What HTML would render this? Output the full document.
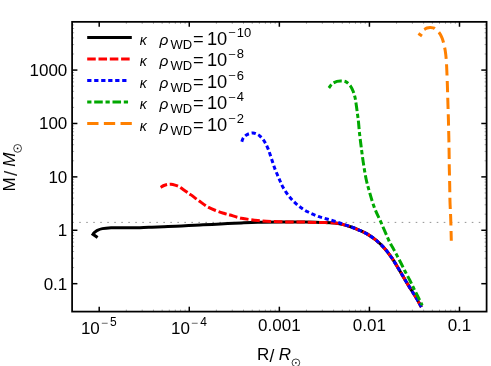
<!DOCTYPE html>
<html><head><meta charset="utf-8"><title>plot</title>
<style>html,body{margin:0;padding:0;background:#fff;}svg{display:block;will-change:transform;}</style></head>
<body>
<svg width="491" height="366" viewBox="0 0 491 366">
<rect width="491" height="366" fill="#fff"/>
<line x1="72.20" y1="222.40" x2="486.60" y2="222.40" stroke="#808080" stroke-width="0.85" stroke-dasharray="1.6 5.41" stroke-dashoffset="0"/>
<path d="M97.60,237.50 L93.00,234.30  C93.25,233.98 93.78,233.05 94.50,232.40 C95.22,231.75 95.98,231.03 97.30,230.40 C98.62,229.77 100.10,229.05 102.40,228.60 C104.70,228.15 108.45,227.85 111.10,227.70 C113.75,227.55 115.48,227.69 118.30,227.70 C121.12,227.71 124.38,227.76 128.00,227.75 C131.62,227.74 136.00,227.74 140.00,227.65 C144.00,227.56 148.00,227.36 152.00,227.20 C156.00,227.04 160.00,226.87 164.00,226.70 C168.00,226.53 171.90,226.38 176.00,226.20 C180.10,226.02 184.60,225.80 188.60,225.60 C192.60,225.40 196.10,225.20 200.00,225.00 C203.90,224.80 207.38,224.63 212.00,224.40 C216.62,224.17 222.80,223.85 227.70,223.60 C232.60,223.35 236.38,223.12 241.40,222.90 C246.42,222.68 251.37,222.43 257.80,222.30 C264.23,222.17 272.13,222.13 280.00,222.10 C287.87,222.07 298.33,222.03 305.00,222.10 C311.67,222.17 315.00,222.35 320.00,222.50 C325.00,222.65 331.13,222.65 335.00,223.00 C338.87,223.35 340.47,223.93 343.20,224.60 C345.93,225.27 348.67,226.05 351.40,227.00 C354.13,227.95 356.87,229.07 359.60,230.30 C362.33,231.53 365.07,232.75 367.80,234.40 C370.53,236.05 373.27,237.93 376.00,240.20 C378.73,242.47 381.53,245.00 384.20,248.00 C386.87,251.00 389.43,254.45 392.00,258.20 C394.57,261.95 396.97,266.13 399.60,270.50 C402.23,274.87 405.07,279.90 407.80,284.40 C410.53,288.90 413.73,293.73 416.00,297.50 C418.27,301.27 420.50,305.42 421.40,307.00" fill="none" stroke="#000" stroke-width="3.00" stroke-linejoin="miter"/>
<path d="M160.60,187.40 C161.17,187.08 162.77,186.00 164.00,185.50 C165.23,185.00 166.83,184.62 168.00,184.40 C169.17,184.18 169.83,184.08 171.00,184.20 C172.17,184.32 173.68,184.70 175.00,185.10 C176.32,185.50 177.60,185.92 178.90,186.60 C180.20,187.28 181.27,188.15 182.80,189.20 C184.33,190.25 186.73,191.95 188.10,192.90 C189.47,193.85 189.15,193.55 191.00,194.90 C192.85,196.25 196.47,199.03 199.20,201.00 C201.93,202.97 204.67,205.12 207.40,206.70 C210.13,208.28 212.87,209.40 215.60,210.50 C218.33,211.60 221.40,212.55 223.80,213.30 C226.20,214.05 227.07,214.18 230.00,215.00 C232.93,215.82 236.77,217.28 241.40,218.20 C246.03,219.12 252.33,219.93 257.80,220.50 C263.27,221.07 268.83,221.35 274.20,221.60 C279.57,221.85 284.87,221.92 290.00,222.00 C295.13,222.08 300.00,222.02 305.00,222.10 C310.00,222.18 315.00,222.35 320.00,222.50 C325.00,222.65 331.13,222.65 335.00,223.00 C338.87,223.35 340.47,223.93 343.20,224.60 C345.93,225.27 348.67,226.05 351.40,227.00 C354.13,227.95 356.87,229.07 359.60,230.30 C362.33,231.53 365.07,232.75 367.80,234.40 C370.53,236.05 373.27,237.93 376.00,240.20 C378.73,242.47 381.53,245.00 384.20,248.00 C386.87,251.00 389.43,254.45 392.00,258.20 C394.57,261.95 396.97,266.13 399.60,270.50 C402.23,274.87 405.07,279.90 407.80,284.40 C410.53,288.90 413.73,293.73 416.00,297.50 C418.27,301.27 420.50,305.42 421.40,307.00" fill="none" stroke="#ff0000" stroke-width="3.00" stroke-dasharray="8.55 2.75" stroke-dashoffset="1.5"/>
<path d="M241.80,141.80 C242.00,141.25 242.38,139.53 243.00,138.50 C243.62,137.47 244.50,136.40 245.50,135.60 C246.50,134.80 247.75,134.13 249.00,133.70 C250.25,133.27 251.67,132.92 253.00,133.00 C254.33,133.08 255.80,133.63 257.00,134.20 C258.20,134.77 258.98,135.23 260.20,136.40 C261.42,137.57 263.00,139.17 264.30,141.20 C265.60,143.23 266.82,145.73 268.00,148.60 C269.18,151.47 270.23,154.98 271.40,158.40 C272.57,161.82 273.75,165.80 275.00,169.10 C276.25,172.40 277.57,175.18 278.90,178.20 C280.23,181.22 281.22,184.07 283.00,187.20 C284.78,190.33 287.13,194.00 289.60,197.00 C292.07,200.00 294.80,202.73 297.80,205.20 C300.80,207.67 304.05,209.88 307.60,211.80 C311.15,213.72 315.27,215.33 319.10,216.70 C322.93,218.07 326.78,218.85 330.60,220.00 C334.42,221.15 338.53,222.43 342.00,223.60 C345.47,224.77 348.47,225.88 351.40,227.00 C354.33,228.12 356.87,229.07 359.60,230.30 C362.33,231.53 365.07,232.75 367.80,234.40 C370.53,236.05 373.27,237.93 376.00,240.20 C378.73,242.47 381.53,245.00 384.20,248.00 C386.87,251.00 389.43,254.45 392.00,258.20 C394.57,261.95 396.97,266.13 399.60,270.50 C402.23,274.87 405.07,279.90 407.80,284.40 C410.53,288.90 413.73,293.73 416.00,297.50 C418.27,301.27 420.50,305.42 421.40,307.00" fill="none" stroke="#0000ff" stroke-width="3.00" stroke-dasharray="4.25 2.75" />
<path d="M328.90,88.00 C329.43,87.32 330.75,85.00 332.10,83.90 C333.45,82.80 335.50,81.90 337.00,81.40 C338.50,80.90 339.58,80.82 341.10,80.90 C342.62,80.98 344.50,81.00 346.10,81.90 C347.70,82.80 349.48,84.62 350.70,86.30 C351.92,87.98 352.67,90.08 353.40,92.00 C354.13,93.92 354.60,95.47 355.10,97.80 C355.60,100.13 356.00,103.27 356.40,106.00 C356.80,108.73 357.15,111.53 357.50,114.20 C357.85,116.87 358.17,118.85 358.50,122.00 C358.83,125.15 359.07,129.07 359.50,133.10 C359.93,137.13 360.47,141.28 361.10,146.20 C361.73,151.12 362.47,157.13 363.30,162.60 C364.13,168.07 365.07,174.10 366.10,179.00 C367.13,183.90 368.12,187.23 369.50,192.00 C370.88,196.77 372.48,202.53 374.40,207.60 C376.32,212.67 378.55,216.83 381.00,222.40 C383.45,227.97 387.15,236.82 389.10,241.00 C391.05,245.18 391.48,245.27 392.70,247.50 C393.92,249.73 395.03,251.82 396.40,254.40 C397.77,256.98 399.47,260.20 400.90,263.00 C402.33,265.80 403.53,268.37 405.00,271.20 C406.47,274.03 408.35,277.37 409.70,280.00 C411.05,282.63 411.85,284.47 413.10,287.00 C414.35,289.53 415.80,292.40 417.20,295.20 C418.60,298.00 420.65,302.12 421.50,303.80 C422.35,305.48 422.17,305.05 422.30,305.30" fill="none" stroke="#00a800" stroke-width="3.00" stroke-dasharray="4.25 2.75 8.55 2.75" />
<path d="M422.00,35.90 L418.40,33.50" fill="none" stroke="#ff8000" stroke-width="3.00" />
<path d="M424.20,29.50 C424.67,29.25 426.02,28.33 427.00,28.00 C427.98,27.67 429.10,27.52 430.10,27.50 C431.10,27.48 432.18,27.68 433.00,27.90 C433.82,28.12 433.97,28.00 435.00,28.80 C436.03,29.60 438.07,31.28 439.20,32.70 C440.33,34.12 441.08,35.67 441.80,37.30 C442.52,38.93 442.93,40.30 443.50,42.50 C444.07,44.70 444.75,47.77 445.20,50.50 C445.65,53.23 445.93,55.65 446.20,58.90 C446.47,62.15 446.60,65.48 446.80,70.00 C447.00,74.52 447.22,80.50 447.40,86.00 C447.58,91.50 447.73,97.50 447.90,103.00 C448.07,108.50 448.25,113.50 448.40,119.00 C448.55,124.50 448.68,130.50 448.80,136.00 C448.92,141.50 449.02,146.67 449.10,152.00 C449.18,157.33 449.20,162.50 449.30,168.00 C449.40,173.50 449.58,179.33 449.70,185.00 C449.82,190.67 449.83,196.50 450.00,202.00 C450.17,207.50 450.48,211.55 450.70,218.00 C450.92,224.45 451.20,236.92 451.30,240.70" fill="none" stroke="#ff8000" stroke-width="3.00" stroke-dasharray="11.3 5.37" />
<rect x="72.10" y="21.85" width="414.50" height="289.75" fill="none" stroke="#000" stroke-width="1.75"/>
<line x1="99.21" y1="311.60" x2="99.21" y2="306.70" stroke="#000" stroke-width="1.50"/>
<line x1="99.21" y1="21.85" x2="99.21" y2="26.75" stroke="#000" stroke-width="1.50"/>
<line x1="126.33" y1="311.60" x2="126.33" y2="309.60" stroke="#000" stroke-width="0.35"/>
<line x1="126.33" y1="21.85" x2="126.33" y2="23.85" stroke="#000" stroke-width="0.35"/>
<line x1="142.19" y1="311.60" x2="142.19" y2="309.60" stroke="#000" stroke-width="0.35"/>
<line x1="142.19" y1="21.85" x2="142.19" y2="23.85" stroke="#000" stroke-width="0.35"/>
<line x1="153.44" y1="311.60" x2="153.44" y2="309.60" stroke="#000" stroke-width="0.35"/>
<line x1="153.44" y1="21.85" x2="153.44" y2="23.85" stroke="#000" stroke-width="0.35"/>
<line x1="162.17" y1="311.60" x2="162.17" y2="309.60" stroke="#000" stroke-width="0.35"/>
<line x1="162.17" y1="21.85" x2="162.17" y2="23.85" stroke="#000" stroke-width="0.35"/>
<line x1="169.30" y1="311.60" x2="169.30" y2="309.60" stroke="#000" stroke-width="0.35"/>
<line x1="169.30" y1="21.85" x2="169.30" y2="23.85" stroke="#000" stroke-width="0.35"/>
<line x1="175.33" y1="311.60" x2="175.33" y2="309.60" stroke="#000" stroke-width="0.35"/>
<line x1="175.33" y1="21.85" x2="175.33" y2="23.85" stroke="#000" stroke-width="0.35"/>
<line x1="180.55" y1="311.60" x2="180.55" y2="309.60" stroke="#000" stroke-width="0.35"/>
<line x1="180.55" y1="21.85" x2="180.55" y2="23.85" stroke="#000" stroke-width="0.35"/>
<line x1="185.16" y1="311.60" x2="185.16" y2="309.60" stroke="#000" stroke-width="0.35"/>
<line x1="185.16" y1="21.85" x2="185.16" y2="23.85" stroke="#000" stroke-width="0.35"/>
<line x1="189.28" y1="311.60" x2="189.28" y2="306.70" stroke="#000" stroke-width="1.50"/>
<line x1="189.28" y1="21.85" x2="189.28" y2="26.75" stroke="#000" stroke-width="1.50"/>
<line x1="216.39" y1="311.60" x2="216.39" y2="309.60" stroke="#000" stroke-width="0.35"/>
<line x1="216.39" y1="21.85" x2="216.39" y2="23.85" stroke="#000" stroke-width="0.35"/>
<line x1="232.26" y1="311.60" x2="232.26" y2="309.60" stroke="#000" stroke-width="0.35"/>
<line x1="232.26" y1="21.85" x2="232.26" y2="23.85" stroke="#000" stroke-width="0.35"/>
<line x1="243.51" y1="311.60" x2="243.51" y2="309.60" stroke="#000" stroke-width="0.35"/>
<line x1="243.51" y1="21.85" x2="243.51" y2="23.85" stroke="#000" stroke-width="0.35"/>
<line x1="252.24" y1="311.60" x2="252.24" y2="309.60" stroke="#000" stroke-width="0.35"/>
<line x1="252.24" y1="21.85" x2="252.24" y2="23.85" stroke="#000" stroke-width="0.35"/>
<line x1="259.37" y1="311.60" x2="259.37" y2="309.60" stroke="#000" stroke-width="0.35"/>
<line x1="259.37" y1="21.85" x2="259.37" y2="23.85" stroke="#000" stroke-width="0.35"/>
<line x1="265.40" y1="311.60" x2="265.40" y2="309.60" stroke="#000" stroke-width="0.35"/>
<line x1="265.40" y1="21.85" x2="265.40" y2="23.85" stroke="#000" stroke-width="0.35"/>
<line x1="270.62" y1="311.60" x2="270.62" y2="309.60" stroke="#000" stroke-width="0.35"/>
<line x1="270.62" y1="21.85" x2="270.62" y2="23.85" stroke="#000" stroke-width="0.35"/>
<line x1="275.23" y1="311.60" x2="275.23" y2="309.60" stroke="#000" stroke-width="0.35"/>
<line x1="275.23" y1="21.85" x2="275.23" y2="23.85" stroke="#000" stroke-width="0.35"/>
<line x1="279.35" y1="311.60" x2="279.35" y2="306.70" stroke="#000" stroke-width="1.50"/>
<line x1="279.35" y1="21.85" x2="279.35" y2="26.75" stroke="#000" stroke-width="1.50"/>
<line x1="306.46" y1="311.60" x2="306.46" y2="309.60" stroke="#000" stroke-width="0.35"/>
<line x1="306.46" y1="21.85" x2="306.46" y2="23.85" stroke="#000" stroke-width="0.35"/>
<line x1="322.32" y1="311.60" x2="322.32" y2="309.60" stroke="#000" stroke-width="0.35"/>
<line x1="322.32" y1="21.85" x2="322.32" y2="23.85" stroke="#000" stroke-width="0.35"/>
<line x1="333.58" y1="311.60" x2="333.58" y2="309.60" stroke="#000" stroke-width="0.35"/>
<line x1="333.58" y1="21.85" x2="333.58" y2="23.85" stroke="#000" stroke-width="0.35"/>
<line x1="342.31" y1="311.60" x2="342.31" y2="309.60" stroke="#000" stroke-width="0.35"/>
<line x1="342.31" y1="21.85" x2="342.31" y2="23.85" stroke="#000" stroke-width="0.35"/>
<line x1="349.44" y1="311.60" x2="349.44" y2="309.60" stroke="#000" stroke-width="0.35"/>
<line x1="349.44" y1="21.85" x2="349.44" y2="23.85" stroke="#000" stroke-width="0.35"/>
<line x1="355.47" y1="311.60" x2="355.47" y2="309.60" stroke="#000" stroke-width="0.35"/>
<line x1="355.47" y1="21.85" x2="355.47" y2="23.85" stroke="#000" stroke-width="0.35"/>
<line x1="360.69" y1="311.60" x2="360.69" y2="309.60" stroke="#000" stroke-width="0.35"/>
<line x1="360.69" y1="21.85" x2="360.69" y2="23.85" stroke="#000" stroke-width="0.35"/>
<line x1="365.30" y1="311.60" x2="365.30" y2="309.60" stroke="#000" stroke-width="0.35"/>
<line x1="365.30" y1="21.85" x2="365.30" y2="23.85" stroke="#000" stroke-width="0.35"/>
<line x1="369.42" y1="311.60" x2="369.42" y2="306.70" stroke="#000" stroke-width="1.50"/>
<line x1="369.42" y1="21.85" x2="369.42" y2="26.75" stroke="#000" stroke-width="1.50"/>
<line x1="396.53" y1="311.60" x2="396.53" y2="309.60" stroke="#000" stroke-width="0.35"/>
<line x1="396.53" y1="21.85" x2="396.53" y2="23.85" stroke="#000" stroke-width="0.35"/>
<line x1="412.39" y1="311.60" x2="412.39" y2="309.60" stroke="#000" stroke-width="0.35"/>
<line x1="412.39" y1="21.85" x2="412.39" y2="23.85" stroke="#000" stroke-width="0.35"/>
<line x1="423.64" y1="311.60" x2="423.64" y2="309.60" stroke="#000" stroke-width="0.35"/>
<line x1="423.64" y1="21.85" x2="423.64" y2="23.85" stroke="#000" stroke-width="0.35"/>
<line x1="432.37" y1="311.60" x2="432.37" y2="309.60" stroke="#000" stroke-width="0.35"/>
<line x1="432.37" y1="21.85" x2="432.37" y2="23.85" stroke="#000" stroke-width="0.35"/>
<line x1="439.51" y1="311.60" x2="439.51" y2="309.60" stroke="#000" stroke-width="0.35"/>
<line x1="439.51" y1="21.85" x2="439.51" y2="23.85" stroke="#000" stroke-width="0.35"/>
<line x1="445.53" y1="311.60" x2="445.53" y2="309.60" stroke="#000" stroke-width="0.35"/>
<line x1="445.53" y1="21.85" x2="445.53" y2="23.85" stroke="#000" stroke-width="0.35"/>
<line x1="450.76" y1="311.60" x2="450.76" y2="309.60" stroke="#000" stroke-width="0.35"/>
<line x1="450.76" y1="21.85" x2="450.76" y2="23.85" stroke="#000" stroke-width="0.35"/>
<line x1="455.37" y1="311.60" x2="455.37" y2="309.60" stroke="#000" stroke-width="0.35"/>
<line x1="455.37" y1="21.85" x2="455.37" y2="23.85" stroke="#000" stroke-width="0.35"/>
<line x1="459.49" y1="311.60" x2="459.49" y2="306.70" stroke="#000" stroke-width="1.50"/>
<line x1="459.49" y1="21.85" x2="459.49" y2="26.75" stroke="#000" stroke-width="1.50"/>
<line x1="72.10" y1="283.68" x2="77.40" y2="283.68" stroke="#000" stroke-width="1.50"/>
<line x1="486.60" y1="283.68" x2="481.30" y2="283.68" stroke="#000" stroke-width="1.50"/>
<line x1="72.10" y1="267.60" x2="74.10" y2="267.60" stroke="#000" stroke-width="0.35"/>
<line x1="486.60" y1="267.60" x2="484.60" y2="267.60" stroke="#000" stroke-width="0.35"/>
<line x1="72.10" y1="258.20" x2="74.10" y2="258.20" stroke="#000" stroke-width="0.35"/>
<line x1="486.60" y1="258.20" x2="484.60" y2="258.20" stroke="#000" stroke-width="0.35"/>
<line x1="72.10" y1="251.53" x2="74.10" y2="251.53" stroke="#000" stroke-width="0.35"/>
<line x1="486.60" y1="251.53" x2="484.60" y2="251.53" stroke="#000" stroke-width="0.35"/>
<line x1="72.10" y1="246.35" x2="74.10" y2="246.35" stroke="#000" stroke-width="0.35"/>
<line x1="486.60" y1="246.35" x2="484.60" y2="246.35" stroke="#000" stroke-width="0.35"/>
<line x1="72.10" y1="242.12" x2="74.10" y2="242.12" stroke="#000" stroke-width="0.35"/>
<line x1="486.60" y1="242.12" x2="484.60" y2="242.12" stroke="#000" stroke-width="0.35"/>
<line x1="72.10" y1="238.55" x2="74.10" y2="238.55" stroke="#000" stroke-width="0.35"/>
<line x1="486.60" y1="238.55" x2="484.60" y2="238.55" stroke="#000" stroke-width="0.35"/>
<line x1="72.10" y1="235.45" x2="74.10" y2="235.45" stroke="#000" stroke-width="0.35"/>
<line x1="486.60" y1="235.45" x2="484.60" y2="235.45" stroke="#000" stroke-width="0.35"/>
<line x1="72.10" y1="232.72" x2="74.10" y2="232.72" stroke="#000" stroke-width="0.35"/>
<line x1="486.60" y1="232.72" x2="484.60" y2="232.72" stroke="#000" stroke-width="0.35"/>
<line x1="72.10" y1="230.28" x2="77.40" y2="230.28" stroke="#000" stroke-width="1.50"/>
<line x1="486.60" y1="230.28" x2="481.30" y2="230.28" stroke="#000" stroke-width="1.50"/>
<line x1="72.10" y1="214.20" x2="74.10" y2="214.20" stroke="#000" stroke-width="0.35"/>
<line x1="486.60" y1="214.20" x2="484.60" y2="214.20" stroke="#000" stroke-width="0.35"/>
<line x1="72.10" y1="204.80" x2="74.10" y2="204.80" stroke="#000" stroke-width="0.35"/>
<line x1="486.60" y1="204.80" x2="484.60" y2="204.80" stroke="#000" stroke-width="0.35"/>
<line x1="72.10" y1="198.13" x2="74.10" y2="198.13" stroke="#000" stroke-width="0.35"/>
<line x1="486.60" y1="198.13" x2="484.60" y2="198.13" stroke="#000" stroke-width="0.35"/>
<line x1="72.10" y1="192.95" x2="74.10" y2="192.95" stroke="#000" stroke-width="0.35"/>
<line x1="486.60" y1="192.95" x2="484.60" y2="192.95" stroke="#000" stroke-width="0.35"/>
<line x1="72.10" y1="188.72" x2="74.10" y2="188.72" stroke="#000" stroke-width="0.35"/>
<line x1="486.60" y1="188.72" x2="484.60" y2="188.72" stroke="#000" stroke-width="0.35"/>
<line x1="72.10" y1="185.15" x2="74.10" y2="185.15" stroke="#000" stroke-width="0.35"/>
<line x1="486.60" y1="185.15" x2="484.60" y2="185.15" stroke="#000" stroke-width="0.35"/>
<line x1="72.10" y1="182.05" x2="74.10" y2="182.05" stroke="#000" stroke-width="0.35"/>
<line x1="486.60" y1="182.05" x2="484.60" y2="182.05" stroke="#000" stroke-width="0.35"/>
<line x1="72.10" y1="179.32" x2="74.10" y2="179.32" stroke="#000" stroke-width="0.35"/>
<line x1="486.60" y1="179.32" x2="484.60" y2="179.32" stroke="#000" stroke-width="0.35"/>
<line x1="72.10" y1="176.88" x2="77.40" y2="176.88" stroke="#000" stroke-width="1.50"/>
<line x1="486.60" y1="176.88" x2="481.30" y2="176.88" stroke="#000" stroke-width="1.50"/>
<line x1="72.10" y1="160.80" x2="74.10" y2="160.80" stroke="#000" stroke-width="0.35"/>
<line x1="486.60" y1="160.80" x2="484.60" y2="160.80" stroke="#000" stroke-width="0.35"/>
<line x1="72.10" y1="151.40" x2="74.10" y2="151.40" stroke="#000" stroke-width="0.35"/>
<line x1="486.60" y1="151.40" x2="484.60" y2="151.40" stroke="#000" stroke-width="0.35"/>
<line x1="72.10" y1="144.73" x2="74.10" y2="144.73" stroke="#000" stroke-width="0.35"/>
<line x1="486.60" y1="144.73" x2="484.60" y2="144.73" stroke="#000" stroke-width="0.35"/>
<line x1="72.10" y1="139.55" x2="74.10" y2="139.55" stroke="#000" stroke-width="0.35"/>
<line x1="486.60" y1="139.55" x2="484.60" y2="139.55" stroke="#000" stroke-width="0.35"/>
<line x1="72.10" y1="135.32" x2="74.10" y2="135.32" stroke="#000" stroke-width="0.35"/>
<line x1="486.60" y1="135.32" x2="484.60" y2="135.32" stroke="#000" stroke-width="0.35"/>
<line x1="72.10" y1="131.75" x2="74.10" y2="131.75" stroke="#000" stroke-width="0.35"/>
<line x1="486.60" y1="131.75" x2="484.60" y2="131.75" stroke="#000" stroke-width="0.35"/>
<line x1="72.10" y1="128.65" x2="74.10" y2="128.65" stroke="#000" stroke-width="0.35"/>
<line x1="486.60" y1="128.65" x2="484.60" y2="128.65" stroke="#000" stroke-width="0.35"/>
<line x1="72.10" y1="125.92" x2="74.10" y2="125.92" stroke="#000" stroke-width="0.35"/>
<line x1="486.60" y1="125.92" x2="484.60" y2="125.92" stroke="#000" stroke-width="0.35"/>
<line x1="72.10" y1="123.48" x2="77.40" y2="123.48" stroke="#000" stroke-width="1.50"/>
<line x1="486.60" y1="123.48" x2="481.30" y2="123.48" stroke="#000" stroke-width="1.50"/>
<line x1="72.10" y1="107.40" x2="74.10" y2="107.40" stroke="#000" stroke-width="0.35"/>
<line x1="486.60" y1="107.40" x2="484.60" y2="107.40" stroke="#000" stroke-width="0.35"/>
<line x1="72.10" y1="98.00" x2="74.10" y2="98.00" stroke="#000" stroke-width="0.35"/>
<line x1="486.60" y1="98.00" x2="484.60" y2="98.00" stroke="#000" stroke-width="0.35"/>
<line x1="72.10" y1="91.33" x2="74.10" y2="91.33" stroke="#000" stroke-width="0.35"/>
<line x1="486.60" y1="91.33" x2="484.60" y2="91.33" stroke="#000" stroke-width="0.35"/>
<line x1="72.10" y1="86.15" x2="74.10" y2="86.15" stroke="#000" stroke-width="0.35"/>
<line x1="486.60" y1="86.15" x2="484.60" y2="86.15" stroke="#000" stroke-width="0.35"/>
<line x1="72.10" y1="81.92" x2="74.10" y2="81.92" stroke="#000" stroke-width="0.35"/>
<line x1="486.60" y1="81.92" x2="484.60" y2="81.92" stroke="#000" stroke-width="0.35"/>
<line x1="72.10" y1="78.35" x2="74.10" y2="78.35" stroke="#000" stroke-width="0.35"/>
<line x1="486.60" y1="78.35" x2="484.60" y2="78.35" stroke="#000" stroke-width="0.35"/>
<line x1="72.10" y1="75.25" x2="74.10" y2="75.25" stroke="#000" stroke-width="0.35"/>
<line x1="486.60" y1="75.25" x2="484.60" y2="75.25" stroke="#000" stroke-width="0.35"/>
<line x1="72.10" y1="72.52" x2="74.10" y2="72.52" stroke="#000" stroke-width="0.35"/>
<line x1="486.60" y1="72.52" x2="484.60" y2="72.52" stroke="#000" stroke-width="0.35"/>
<line x1="72.10" y1="70.08" x2="77.40" y2="70.08" stroke="#000" stroke-width="1.50"/>
<line x1="486.60" y1="70.08" x2="481.30" y2="70.08" stroke="#000" stroke-width="1.50"/>
<line x1="72.10" y1="54.00" x2="74.10" y2="54.00" stroke="#000" stroke-width="0.35"/>
<line x1="486.60" y1="54.00" x2="484.60" y2="54.00" stroke="#000" stroke-width="0.35"/>
<line x1="72.10" y1="44.60" x2="74.10" y2="44.60" stroke="#000" stroke-width="0.35"/>
<line x1="486.60" y1="44.60" x2="484.60" y2="44.60" stroke="#000" stroke-width="0.35"/>
<line x1="72.10" y1="37.93" x2="74.10" y2="37.93" stroke="#000" stroke-width="0.35"/>
<line x1="486.60" y1="37.93" x2="484.60" y2="37.93" stroke="#000" stroke-width="0.35"/>
<line x1="72.10" y1="32.75" x2="74.10" y2="32.75" stroke="#000" stroke-width="0.35"/>
<line x1="486.60" y1="32.75" x2="484.60" y2="32.75" stroke="#000" stroke-width="0.35"/>
<line x1="72.10" y1="28.52" x2="74.10" y2="28.52" stroke="#000" stroke-width="0.35"/>
<line x1="486.60" y1="28.52" x2="484.60" y2="28.52" stroke="#000" stroke-width="0.35"/>
<line x1="72.10" y1="24.95" x2="74.10" y2="24.95" stroke="#000" stroke-width="0.35"/>
<line x1="486.60" y1="24.95" x2="484.60" y2="24.95" stroke="#000" stroke-width="0.35"/>
<text x="67.30" y="76.08" font-size="17.00" text-anchor="end" font-family="Liberation Sans, sans-serif" >1000</text>
<text x="67.30" y="129.48" font-size="17.00" text-anchor="end" font-family="Liberation Sans, sans-serif" >100</text>
<text x="67.30" y="182.88" font-size="17.00" text-anchor="end" font-family="Liberation Sans, sans-serif" >10</text>
<text x="67.30" y="236.28" font-size="17.00" text-anchor="end" font-family="Liberation Sans, sans-serif" >1</text>
<text x="67.30" y="289.68" font-size="17.00" text-anchor="end" font-family="Liberation Sans, sans-serif" >0.1</text>
<text x="279.35" y="330.80" font-size="17.00" text-anchor="middle" font-family="Liberation Sans, sans-serif" >0.001</text>
<text x="369.42" y="330.80" font-size="17.00" text-anchor="middle" font-family="Liberation Sans, sans-serif" >0.01</text>
<text x="459.49" y="330.80" font-size="17.00" text-anchor="middle" font-family="Liberation Sans, sans-serif" >0.1</text>
<text x="80.91" y="333.90" font-size="17.00" text-anchor="start" font-family="Liberation Sans, sans-serif" >10</text>
<text x="100.91" y="326.70" font-size="12.00" text-anchor="start" font-family="Liberation Sans, sans-serif" fill="#555">−</text>
<text x="110.11" y="326.40" font-size="12.00" text-anchor="start" font-family="Liberation Sans, sans-serif" >5</text>
<text x="170.98" y="333.90" font-size="17.00" text-anchor="start" font-family="Liberation Sans, sans-serif" >10</text>
<text x="190.98" y="326.70" font-size="12.00" text-anchor="start" font-family="Liberation Sans, sans-serif" fill="#555">−</text>
<text x="200.18" y="326.40" font-size="12.00" text-anchor="start" font-family="Liberation Sans, sans-serif" >4</text>
<text x="257.00" y="360.20" font-size="17.00" text-anchor="start" font-family="Liberation Sans, sans-serif" >R</text>
<text x="269.40" y="362.10" font-size="17.50" text-anchor="start" font-family="Liberation Sans, sans-serif" >/</text>
<text x="278.70" y="360.20" font-size="17.00" text-anchor="start" font-family="Liberation Sans, sans-serif" font-style="italic">R</text>
<circle cx="295.9" cy="362.8" r="3.85" fill="none" stroke="#000" stroke-width="0.75"/>
<circle cx="295.9" cy="362.8" r="0.85" fill="#000"/>
<g transform="translate(14.6,191.4) rotate(-90)">
<text x="-0.10" y="0.00" font-size="17.00" text-anchor="start" font-family="Liberation Sans, sans-serif" >M</text>
<text x="15.40" y="2.20" font-size="19.00" text-anchor="start" font-family="Liberation Sans, sans-serif" fill="#222">/</text>
<text x="24.60" y="0.00" font-size="17.00" text-anchor="start" font-family="Liberation Sans, sans-serif" font-style="italic">M</text>
<circle cx="43.0" cy="3.0" r="3.9" fill="none" stroke="#000" stroke-width="0.75"/>
<circle cx="43.0" cy="3.0" r="0.85" fill="#000"/>
</g>
<line x1="87.2" y1="37.50" x2="131.80" y2="37.50" stroke="#000" stroke-width="3.00"/>
<text x="139.70" y="44.70" font-size="14.00" text-anchor="start" font-family="Liberation Sans, sans-serif" font-style="italic">κ</text>
<text x="159.60" y="44.90" font-size="15.50" text-anchor="start" font-family="Liberation Sans, sans-serif" font-style="italic">ρ</text>
<text x="170.60" y="48.80" font-size="13.00" text-anchor="start" font-family="Liberation Sans, sans-serif" >WD</text>
<text x="192.90" y="44.70" font-size="18.30" text-anchor="start" font-family="Liberation Sans, sans-serif" >=</text>
<text x="206.90" y="44.70" font-size="18.30" text-anchor="start" font-family="Liberation Sans, sans-serif" >10</text>
<text x="228.30" y="37.30" font-size="13.00" text-anchor="start" font-family="Liberation Sans, sans-serif" fill="#333">−</text>
<text x="236.80" y="36.70" font-size="13.00" text-anchor="start" font-family="Liberation Sans, sans-serif" >10</text>
<line x1="87.2" y1="59.00" x2="131.00" y2="59.00" stroke="#ff0000" stroke-width="3.00" stroke-dasharray="8.55 2.75"/>
<text x="139.70" y="66.20" font-size="14.00" text-anchor="start" font-family="Liberation Sans, sans-serif" font-style="italic">κ</text>
<text x="159.60" y="66.40" font-size="15.50" text-anchor="start" font-family="Liberation Sans, sans-serif" font-style="italic">ρ</text>
<text x="170.60" y="70.30" font-size="13.00" text-anchor="start" font-family="Liberation Sans, sans-serif" >WD</text>
<text x="192.90" y="66.20" font-size="18.30" text-anchor="start" font-family="Liberation Sans, sans-serif" >=</text>
<text x="206.90" y="66.20" font-size="18.30" text-anchor="start" font-family="Liberation Sans, sans-serif" >10</text>
<text x="228.30" y="58.80" font-size="13.00" text-anchor="start" font-family="Liberation Sans, sans-serif" fill="#333">−</text>
<text x="236.80" y="58.20" font-size="13.00" text-anchor="start" font-family="Liberation Sans, sans-serif" >8</text>
<line x1="87.2" y1="80.50" x2="127.60" y2="80.50" stroke="#0000ff" stroke-width="3.00" stroke-dasharray="4.25 2.75"/>
<text x="139.70" y="87.70" font-size="14.00" text-anchor="start" font-family="Liberation Sans, sans-serif" font-style="italic">κ</text>
<text x="159.60" y="87.90" font-size="15.50" text-anchor="start" font-family="Liberation Sans, sans-serif" font-style="italic">ρ</text>
<text x="170.60" y="91.80" font-size="13.00" text-anchor="start" font-family="Liberation Sans, sans-serif" >WD</text>
<text x="192.90" y="87.70" font-size="18.30" text-anchor="start" font-family="Liberation Sans, sans-serif" >=</text>
<text x="206.90" y="87.70" font-size="18.30" text-anchor="start" font-family="Liberation Sans, sans-serif" >10</text>
<text x="228.30" y="80.30" font-size="13.00" text-anchor="start" font-family="Liberation Sans, sans-serif" fill="#333">−</text>
<text x="236.80" y="79.70" font-size="13.00" text-anchor="start" font-family="Liberation Sans, sans-serif" >6</text>
<line x1="87.2" y1="102.00" x2="128.60" y2="102.00" stroke="#00a800" stroke-width="3.00" stroke-dasharray="4.25 2.75 8.55 2.75"/>
<text x="139.70" y="109.20" font-size="14.00" text-anchor="start" font-family="Liberation Sans, sans-serif" font-style="italic">κ</text>
<text x="159.60" y="109.40" font-size="15.50" text-anchor="start" font-family="Liberation Sans, sans-serif" font-style="italic">ρ</text>
<text x="170.60" y="113.30" font-size="13.00" text-anchor="start" font-family="Liberation Sans, sans-serif" >WD</text>
<text x="192.90" y="109.20" font-size="18.30" text-anchor="start" font-family="Liberation Sans, sans-serif" >=</text>
<text x="206.90" y="109.20" font-size="18.30" text-anchor="start" font-family="Liberation Sans, sans-serif" >10</text>
<text x="228.30" y="101.80" font-size="13.00" text-anchor="start" font-family="Liberation Sans, sans-serif" fill="#333">−</text>
<text x="236.80" y="101.20" font-size="13.00" text-anchor="start" font-family="Liberation Sans, sans-serif" >4</text>
<line x1="87.2" y1="123.50" x2="131.80" y2="123.50" stroke="#ff8000" stroke-width="3.00" stroke-dasharray="11.3 5.37"/>
<text x="139.70" y="130.70" font-size="14.00" text-anchor="start" font-family="Liberation Sans, sans-serif" font-style="italic">κ</text>
<text x="159.60" y="130.90" font-size="15.50" text-anchor="start" font-family="Liberation Sans, sans-serif" font-style="italic">ρ</text>
<text x="170.60" y="134.80" font-size="13.00" text-anchor="start" font-family="Liberation Sans, sans-serif" >WD</text>
<text x="192.90" y="130.70" font-size="18.30" text-anchor="start" font-family="Liberation Sans, sans-serif" >=</text>
<text x="206.90" y="130.70" font-size="18.30" text-anchor="start" font-family="Liberation Sans, sans-serif" >10</text>
<text x="228.30" y="123.30" font-size="13.00" text-anchor="start" font-family="Liberation Sans, sans-serif" fill="#333">−</text>
<text x="236.80" y="122.70" font-size="13.00" text-anchor="start" font-family="Liberation Sans, sans-serif" >2</text>
</svg>
</body></html>
